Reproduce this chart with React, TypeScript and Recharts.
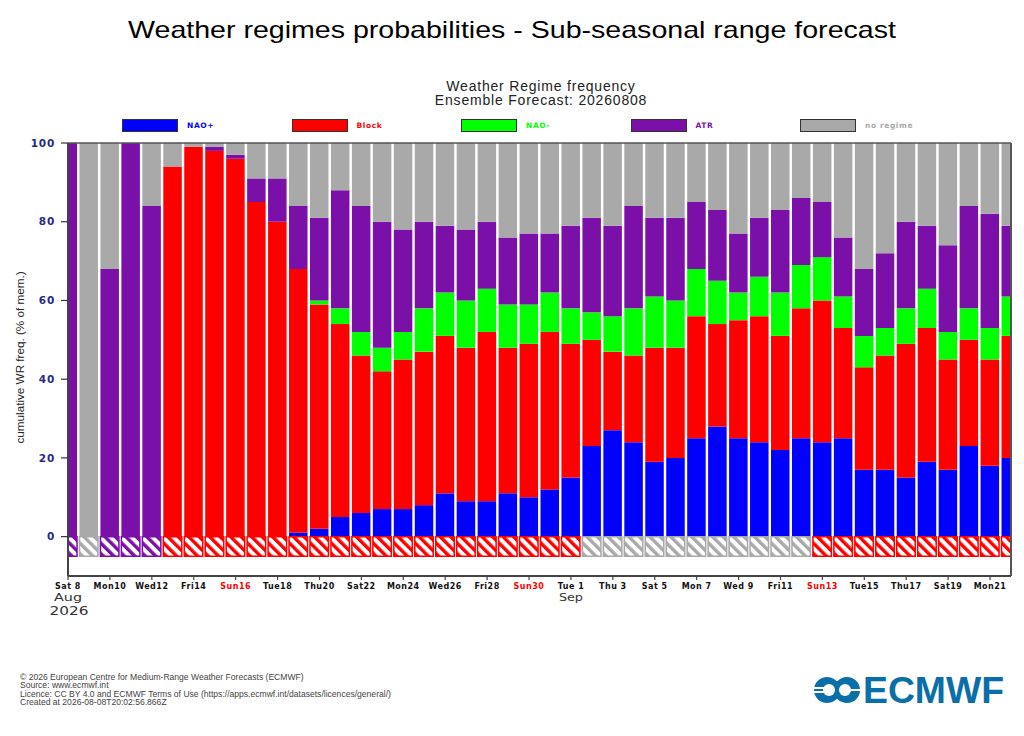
import React from 'react'
import { BarChart, Bar, Cell, XAxis, YAxis, Legend, ReferenceLine } from 'recharts'

// members (%) in each regime, one entry per day from Sat 8 Aug to Tue 22 Sep
const naoPlus = [0, 0, 0, 0, 0, 0, 0, 0, 0, 0, 0, 1, 2, 5, 6, 7, 7, 8, 11, 9, 9, 11, 10, 12, 15, 23, 27, 24, 19, 20, 25, 28, 25, 24, 22, 25, 24, 25, 17, 17, 15, 19, 17, 23, 18, 20]
const block = [0, 0, 0, 0, 0, 94, 99, 98, 96, 85, 80, 67, 57, 49, 40, 35, 38, 39, 40, 39, 43, 37, 39, 40, 34, 27, 20, 22, 29, 28, 31, 26, 30, 32, 29, 33, 36, 28, 26, 29, 34, 34, 28, 27, 27, 31]
const naoMinus = [0, 0, 0, 0, 0, 0, 0, 0, 0, 0, 0, 0, 1, 4, 6, 6, 7, 11, 11, 12, 11, 11, 10, 10, 9, 7, 9, 12, 13, 12, 12, 11, 7, 10, 11, 11, 11, 8, 8, 7, 9, 10, 7, 8, 8, 10]
const atr = [100, 0, 68, 100, 84, 0, 0, 1, 1, 6, 11, 16, 21, 30, 32, 32, 26, 22, 17, 18, 17, 17, 18, 15, 21, 24, 23, 26, 20, 21, 17, 18, 15, 15, 21, 17, 14, 15, 17, 19, 22, 16, 22, 26, 29, 18]
const noRegime = [0, 100, 32, 0, 16, 6, 1, 1, 3, 9, 9, 16, 19, 12, 16, 20, 22, 20, 21, 22, 20, 24, 23, 23, 21, 19, 21, 16, 19, 19, 15, 17, 23, 19, 17, 14, 15, 24, 32, 28, 20, 21, 26, 16, 18, 21]

// regime shown in the hatched strip under the zero line
const dominant = [
  'atr', 'none', 'atr', 'atr', 'atr',
  'block', 'block', 'block', 'block', 'block', 'block', 'block', 'block', 'block', 'block',
  'block', 'block', 'block', 'block', 'block', 'block', 'block', 'block', 'block', 'block',
  'none', 'none', 'none', 'none', 'none', 'none', 'none', 'none', 'none', 'none', 'none',
  'block', 'block', 'block', 'block', 'block', 'block', 'block', 'block', 'block', 'block',
]
const stripDepth = [-5]

const tickLabels = ['Sat 8', 'Mon10', 'Wed12', 'Fri14', 'Sun16', 'Tue18', 'Thu20', 'Sat22', 'Mon24', 'Wed26', 'Fri28', 'Sun30', 'Tue 1', 'Thu 3', 'Sat 5', 'Mon 7', 'Wed 9', 'Fri11', 'Sun13', 'Tue15', 'Thu17', 'Sat19', 'Mon21']
const tickDays = [0, 2, 4, 6, 8, 10, 12, 14, 16, 18, 20, 22, 24, 26, 28, 30, 32, 34, 36, 38, 40, 42, 44]
const yTicks = [0, 20, 40, 60, 80, 100]

const footerLines = [
  '© 2026 European Centre for Medium-Range Weather Forecasts (ECMWF)',
  'Source: www.ecmwf.int',
  'Licence: CC BY 4.0 and ECMWF Terms of Use (https://apps.ecmwf.int/datasets/licences/general/)',
  'Created at 2026-08-08T20:02:56.866Z',
]

const COLORS = { naoPlus: '#0000ff', block: '#ff0000', naoMinus: '#00ff00', atr: '#7a10a8', none: '#a9a9a9' }
const LOGO_BLUE = '#0a6fa8'

const rows = naoPlus.map((v, i) => ({
  day: i,
  naoPlus: v,
  block: block[i],
  naoMinus: naoMinus[i],
  atr: atr[i],
  noRegime: noRegime[i],
  strip: stripDepth[0],
}))

const hatches = [
  { id: 'hatch-block', color: COLORS.block },
  { id: 'hatch-atr', color: COLORS.atr },
  { id: 'hatch-none', color: COLORS.none },
]

function DayTick({ x, y, index }: any) {
  const label = tickLabels[index]
  const sunday = label.startsWith('Sun')
  return (
    <g>
      <line x1={x} x2={x} y1={y - 8} y2={y - 4} stroke="#444" strokeWidth={1.2} />
      <text x={x} y={y + 4.5} textAnchor="middle" fontFamily="'DejaVu Sans'" fontWeight="bold" fontSize={8} letterSpacing={0.5} fill={sunday ? '#ff0000' : '#111'}>
        {label}
      </text>
      {label === 'Sat 8' && (
        <>
          <text x={x - 14} y={y + 16.5} fontFamily="'DejaVu Sans'" fontSize={10.5} textLength={28} lengthAdjust="spacingAndGlyphs" fill="#333">Aug</text>
          <text x={x - 18.5} y={y + 30.5} fontFamily="'DejaVu Sans'" fontSize={13} textLength={39} lengthAdjust="spacingAndGlyphs" fill="#333">2026</text>
        </>
      )}
      {label === 'Tue 1' && (
        <text x={x - 12} y={y + 16.5} fontFamily="'DejaVu Sans'" fontSize={10.5} textLength={24} lengthAdjust="spacingAndGlyphs" fill="#333">Sep</text>
      )}
    </g>
  )
}

function RegimeLegend({ payload }: any) {
  return (
    <div style={{ display: 'flex', height: 0 }}>
      {(payload || []).filter((p: any) => p.value !== 'strip').map((p: any) => (
        <div key={p.value} style={{ width: 169.5, flex: 'none', position: 'relative' }}>
          <div style={{ width: 54, height: 11, background: p.color, border: '1px solid #333', boxSizing: 'content-box' }} />
          <span style={{
            position: 'absolute', left: 65, top: 2, whiteSpace: 'nowrap', color: p.color,
            fontFamily: "'DejaVu Sans'", fontWeight: 'bold', fontSize: 7.5, letterSpacing: 0.6,
          }}>
            {p.value}
          </span>
        </div>
      ))}
    </div>
  )
}

function EcmwfLogo() {
  return (
    <svg width={212} height={50} style={{ position: 'absolute', left: 812, top: 665 }}>
      <g transform="translate(0,10)">
        <circle cx={15} cy={15} r={13} fill={LOGO_BLUE} />
        <circle cx={35} cy={15} r={13} fill={LOGO_BLUE} />
        <rect x={15} y={6} width={20} height={18} fill={LOGO_BLUE} />
        <circle cx={17} cy={15} r={6} fill="#fff" />
        <circle cx={33} cy={15} r={6} fill="#fff" />
        <rect x={2} y={12} width={16} height={2} fill="#fff" />
        <rect x={2} y={16} width={16} height={2} fill="#fff" />
        <rect x={32} y={14} width={16} height={2} fill="#fff" />
        <text x={51} y={27.5} fontFamily="'Liberation Sans'" fontWeight="bold" fontSize={36} textLength={141} lengthAdjust="spacingAndGlyphs" fill={LOGO_BLUE}>
          ECMWF
        </text>
      </g>
    </svg>
  )
}

export default function App() {
  return (
    <div style={{ position: 'absolute', left: 0, top: 0, width: 1024, height: 736, background: '#fff', overflow: 'hidden' }}>
      <div style={{ position: 'absolute', top: 16, width: 1024, textAlign: 'center', fontFamily: "'Liberation Sans'", fontSize: 24, color: '#000', whiteSpace: 'nowrap', transform: 'scaleX(1.19)' }}>
        Weather regimes probabilities - Sub-seasonal range forecast
      </div>
      <div style={{ position: 'absolute', left: 341, top: 79, width: 400, textAlign: 'center', fontFamily: "'Liberation Sans'", fontSize: 14, lineHeight: '14px', letterSpacing: 0.8, color: '#222' }}>
        Weather Regime frequency<br />Ensemble Forecast: 20260808
      </div>

      <BarChart
        width={1024}
        height={736}
        data={rows}
        stackOffset="sign"
        barSize={18.5}
        margin={{ top: 143, right: 13, bottom: 130, left: 28 }}
      >
        <defs>
          {/* tile size tied to the day spacing so every cell gets the same stripe phase */}
          {hatches.map((h) => (
            <pattern key={h.id} id={h.id} width={7.409} height={7.409} patternUnits="userSpaceOnUse" patternTransform="rotate(45) translate(0,3.25)">
              <rect width={7.409} height={7.409} fill={h.color} />
              <rect width={7.409} height={4} fill="#fff" />
            </pattern>
          ))}
        </defs>
        <XAxis
          dataKey="day"
          type="number"
          domain={[0, 45]}
          ticks={tickDays}
          allowDataOverflow
          interval={0}
          height={30}
          tickLine={false}
          tick={<DayTick />}
          axisLine={{ stroke: '#444', strokeWidth: 2 }}
        />
        <YAxis
          type="number"
          domain={[-10, 100]}
          ticks={yTicks}
          allowDataOverflow
          width={40}
          tickSize={7}
          tickMargin={6}
          tickLine={{ stroke: '#333', strokeWidth: 1.2 }}
          axisLine={{ stroke: '#444', strokeWidth: 2 }}
          tick={{ fill: '#2a2a86', fontSize: 10.5, fontWeight: 'bold', fontFamily: "'DejaVu Sans'", letterSpacing: 0.8 }}
          label={{
            value: 'cumulative WR freq. (% of mem.)',
            angle: -90,
            position: 'insideLeft',
            offset: 0,
            dx: -8,
            dy: 84,
            style: { fontFamily: "'Liberation Sans Narrow','Liberation Sans'", fontSize: 11.7, fill: '#222' },
          }}
        />
        <ReferenceLine y={100} stroke="#555" strokeWidth={1.5} />
        <ReferenceLine x={45} stroke="#555" strokeWidth={2} />

        <Bar dataKey="naoPlus" name="NAO+" stackId="wr" fill={COLORS.naoPlus} isAnimationActive={false} />
        <Bar dataKey="block" name="Block" stackId="wr" fill={COLORS.block} isAnimationActive={false} />
        <Bar dataKey="naoMinus" name="NAO-" stackId="wr" fill={COLORS.naoMinus} isAnimationActive={false} />
        <Bar dataKey="atr" name="ATR" stackId="wr" fill={COLORS.atr} isAnimationActive={false} />
        <Bar dataKey="noRegime" name="no regime" stackId="wr" fill={COLORS.none} isAnimationActive={false} />
        <Bar dataKey="strip" name="strip" stackId="wr" legendType="none" isAnimationActive={false}>
          {dominant.map((d, i) => (
            <Cell key={i} fill={`url(#hatch-${d})`} stroke={COLORS[d as keyof typeof COLORS]} strokeWidth={1.5} />
          ))}
        </Bar>

        <Legend
          content={<RegimeLegend />}
          itemSorter={null}
          wrapperStyle={{ top: 119, left: 122, width: 850, height: 0 }}
        />
      </BarChart>

      <div style={{ position: 'absolute', left: 20, top: 673, fontFamily: "'Liberation Sans'", fontSize: 8.57, lineHeight: '8.35px', color: '#444', whiteSpace: 'nowrap' }}>
        {footerLines.map((l) => (
          <div key={l}>{l}</div>
        ))}
      </div>
      <EcmwfLogo />
    </div>
  )
}
